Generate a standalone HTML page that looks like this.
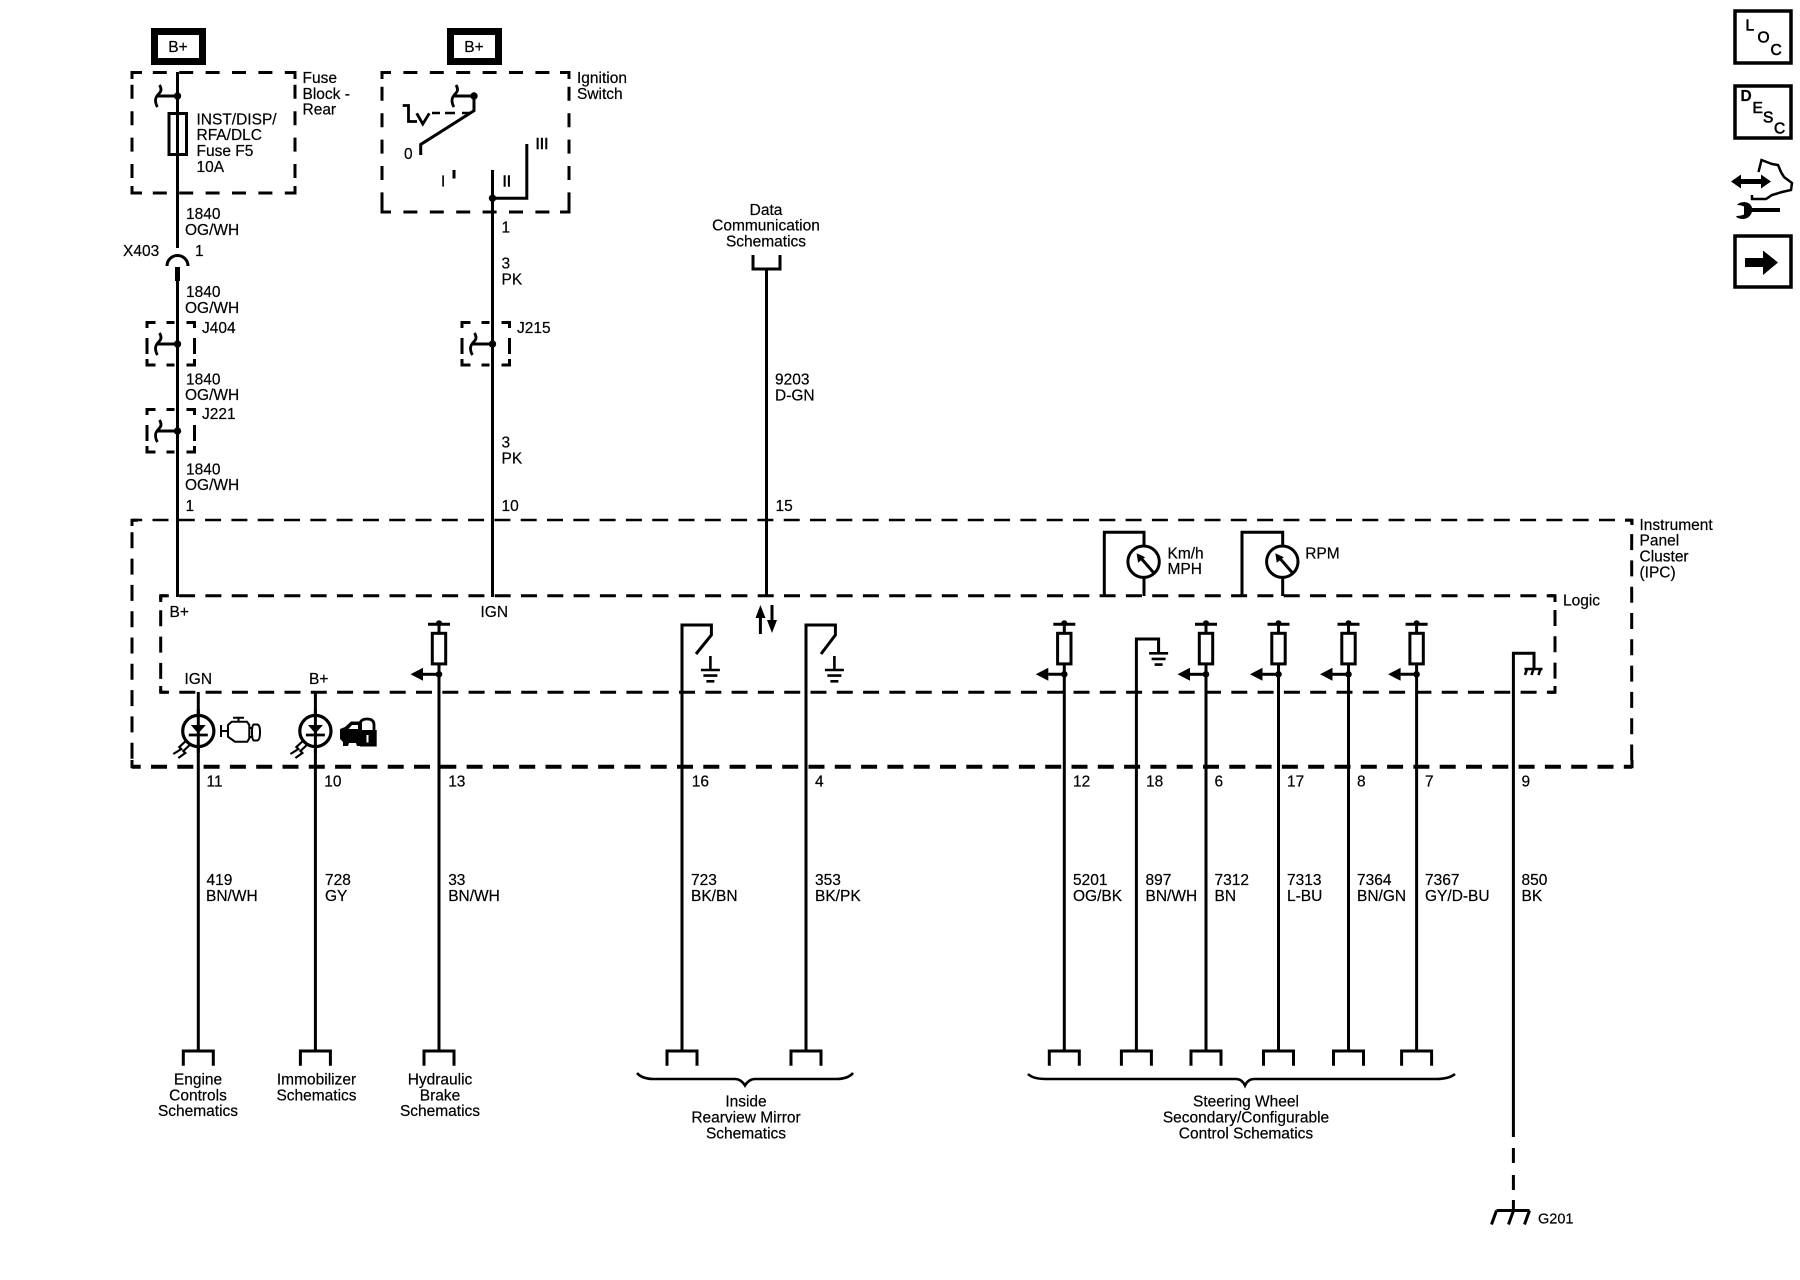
<!DOCTYPE html>
<html><head><meta charset="utf-8"><title>Instrument Panel Cluster Schematic</title>
<style>
html,body{margin:0;padding:0;background:#fff}
svg{display:block}
text{font-family:"Liberation Sans",sans-serif;font-size:15.5px;fill:#000;stroke:#000;stroke-width:.2}
.m{text-anchor:middle}
.d{fill:none;stroke:#000;stroke-width:3;stroke-dasharray:16 10.3}
.f{fill:none;stroke:#000;stroke-width:3;stroke-dasharray:14 12.4}
.w{fill:none;stroke:#000;stroke-width:3}
.b{stroke-width:.6}
</style></head><body>
<svg width="1800" height="1280" viewBox="0 0 1800 1280" xmlns="http://www.w3.org/2000/svg">
<defs>
<g id="sp" fill="none" stroke="#000"><path d="M0 0H-20" stroke-width="3"/><path d="M-18 -11Q-15 -6 -18 -3Q-22 1 -22 4Q-22 8 -20 11" stroke-width="2.800"/><circle r="3.700" fill="#000" stroke="none"/></g>
<g id="jb" fill="none" stroke="#000" stroke-width="3"><path d="M-22 -21.500H-30.500V-16M-11 -21.500H-3M9 -21.500H17V-16M-30.500 -6V10M17 -6V10M-30.500 15V21H-22M-11 21H-3M9 21H17V15"/></g>
<g id="pu" fill="none" stroke="#000"><circle cy="-51" r="3" fill="#000" stroke="none"/><path d="M-11 -50H11" stroke-width="3"/><path d="M0 -50V-41M0 -11V0" stroke-width="3"/><rect x="-6.700" y="-41" width="13.400" height="30.600" stroke-width="3"/><path d="M0 0H-16" stroke-width="3"/><path d="M-16 -6.500V6.500L-28.500 0Z" fill="#000" stroke="none"/><circle r="3.300" fill="#000" stroke="none"/></g>
<g id="gnd" stroke="#000" stroke-width="2.600"><path d="M0 -14V0M-9.500 0H9.500M-7 5.600H7M-4 11.300H4"/></g>
<g id="con" fill="none" stroke="#000" stroke-width="3"><path d="M-15 14.700V0H15V14.700"/></g>
<g id="led" fill="none" stroke="#000"><circle r="15.600" stroke-width="3.200" fill="#fff"/><path d="M0 -22V22" stroke-width="3"/><path d="M-7.500 -6H7.500L0 2.500Z" fill="#000" stroke="none"/><path d="M-9.500 4H9.500" stroke-width="2.800"/><path d="M-12.500 10L-19 16L-17 18L-25 23M-8 13.500L-15 20L-13 22L-20 27" stroke-width="2.200"/></g>
<g id="gauge" fill="none" stroke="#000"><circle r="15.700" stroke-width="3" fill="#fff"/><path d="M10 11L-3 -4" stroke-width="3"/><path d="M-7 -8.500L-5.500 1L1.500 -4.500Z" fill="#000" stroke="none"/></g>
</defs>

<!-- B+ boxes -->
<rect x="154.500" y="31.500" width="48" height="30" fill="#fff" stroke="#000" stroke-width="7"/>
<text x="178" y="52" class="m">B+</text>
<rect x="450.500" y="31.500" width="48" height="30" fill="#fff" stroke="#000" stroke-width="7"/>
<text x="474" y="52" class="m">B+</text>

<!-- Fuse block -->
<path class="f" d="M132 72.500H295" stroke-dashoffset="5.600"/>
<path class="f" d="M132 193H295" stroke-dashoffset="5.600"/>
<path class="f" d="M132 72V193" stroke-dashoffset="13.600"/>
<path class="f" d="M295 72V193" stroke-dashoffset="13.600"/>
<path d="M132 79V72.500H142M285 72.500H295V79M132 186V193H142M285 193H295V186" fill="none" stroke="#000" stroke-width="3"/>
<path class="w" d="M177.500 72V248M177.500 280V597"/>
<path d="M177.500 267V281" stroke="#000" stroke-width="5"/>
<path d="M167 266A10.500 10.500 0 0 1 188 266" fill="none" stroke="#000" stroke-width="3"/>
<use href="#sp" x="177.500" y="96"/>
<rect x="169" y="113.500" width="17.500" height="41" fill="#fff" stroke="#000" stroke-width="3"/>
<path d="M177.500 113V155" stroke="#000" stroke-width="3"/>
<text x="302.500" y="83">Fuse</text><text x="302.500" y="99">Block -</text><text x="302.500" y="114.500">Rear</text>
<text x="196.500" y="124.500">INST/DISP/</text><text x="196.500" y="140">RFA/DLC</text><text x="196.500" y="156">Fuse F5</text><text x="196.500" y="172">10A</text>
<text x="186" y="219">1840</text><text x="185" y="235">OG/WH</text>
<text x="123" y="256">X403</text><text x="195" y="256">1</text>
<text x="186" y="297">1840</text><text x="185" y="313">OG/WH</text>

<!-- J404 -->
<use href="#jb" x="177.500" y="344"/>
<use href="#sp" x="177.500" y="344"/>
<text x="202" y="333">J404</text>
<text x="186" y="384.500">1840</text><text x="185" y="400">OG/WH</text>
<!-- J221 -->
<use href="#jb" x="177.500" y="431"/>
<use href="#sp" x="177.500" y="431"/>
<text x="202" y="419">J221</text>
<text x="186" y="474.500">1840</text><text x="185" y="490">OG/WH</text>
<text x="185.500" y="511">1</text>

<!-- Ignition switch -->
<path class="f" d="M382 72.500H569" stroke-dashoffset="5"/>
<path class="f" d="M382 212H569" stroke-dashoffset="5"/>
<path class="f" d="M382 72V212" stroke-dashoffset="11.600"/>
<path class="f" d="M569 72V212" stroke-dashoffset="11.600"/>
<path d="M382 79V72.500H391M560 72.500H569V79M382 205V212H391M560 212H569V205" fill="none" stroke="#000" stroke-width="3"/>
<text x="577" y="83">Ignition</text><text x="577" y="99">Switch</text>
<path class="w" d="M492.500 170V597M492.500 198.300H526.800V144"/>
<circle cx="492.500" cy="198.300" r="3.700"/>
<use href="#sp" x="474" y="96"/>
<path class="w" d="M474 96V110.700L420.700 144.500V155"/>
<path d="M432 113H440M445 113H455M462 113H470" fill="none" stroke="#000" stroke-width="2.600"/>
<path d="M402.700 105.500H408.500V121.500H417M416.700 113.300L422.800 124L429.300 113.300" fill="none" stroke="#000" stroke-width="2.800"/>
<path d="M454 170V178.500" stroke="#000" stroke-width="3"/>
<text x="404" y="159">0</text><text x="441" y="186.700">I</text><text x="502.500" y="186.700" class="b">II</text><text x="535.500" y="149" class="b">III</text>
<text x="501.500" y="232.300">1</text>
<text x="501.500" y="268.300">3</text><text x="501.500" y="284.300">PK</text>
<use href="#jb" x="492.500" y="344"/>
<use href="#sp" x="492.500" y="344"/>
<text x="517" y="333">J215</text>
<text x="501.500" y="447.700">3</text><text x="501.500" y="463.300">PK</text>
<text x="501.500" y="511">10</text>

<!-- Data comm -->
<text x="766" y="215" class="m">Data</text><text x="766" y="230.700" class="m">Communication</text><text x="766" y="246.700" class="m">Schematics</text>
<path class="w" d="M753 255V269H780V255M766.500 269V597"/>
<text x="775" y="384.300">9203</text><text x="775" y="400.500">D-GN</text>
<text x="775.500" y="511">15</text>

<!-- IPC box -->
<path class="d" d="M132 520H1632" stroke-dashoffset="5.800" style="stroke-width:2.600"/>
<path class="d" d="M132 766.700H1632" stroke-dashoffset="7.300" style="stroke-width:4"/>
<path class="d" d="M132 520V767" stroke-dashoffset="14"/>
<path class="d" d="M1631.700 520V767" stroke-dashoffset="12.200"/>
<path d="M132 526V520.200H138M1625 520.200H1632V525M132 760V766.700H138M1625 766.700H1632V760" fill="none" stroke="#000" stroke-width="3"/>
<text x="1639.500" y="530">Instrument</text><text x="1639.500" y="545.700">Panel</text><text x="1639.500" y="561.700">Cluster</text><text x="1639.500" y="577.300">(IPC)</text>

<!-- Logic box -->
<path class="d" d="M160.700 595.700H1555" stroke-dashoffset="7.900"/>
<path class="d" d="M160.700 692.300H1555" stroke-dashoffset="7.700"/>
<path class="d" d="M160.700 595.700V692.300" stroke-dashoffset="11.700"/>
<path class="d" d="M1555 595.700V692.300" stroke-dashoffset="12"/>
<path d="M160.700 602V595.700H167M1548 595.700H1555V602M160.700 686V692.300H167M1548 692.300H1555V686" fill="none" stroke="#000" stroke-width="3"/>
<text x="1563" y="605.500">Logic</text>
<text x="169.500" y="617">B+</text><text x="480.500" y="617">IGN</text>
<text x="184.500" y="684">IGN</text><text x="309" y="684">B+</text>

<!-- Left lower -->
<path class="w" d="M198.300 692V1051"/><use href="#led" x="198.300" y="731"/>
<path class="w" d="M315.400 692V1051"/><use href="#led" x="315.400" y="731"/>
<!-- engine icon -->
<path d="M221 725V737M221 731H228M228 725L231.700 721.700H247L249.300 725V738.300L247.300 741.700H235L228 736.700ZM233 717.700H244M238.500 717.700V721.700M249.300 728H253M249.300 737H253M253 724.500H257Q260 724.500 260 732Q260 740.500 257 740.500H254Q252 740.500 252 732Q252 724.500 254 724.500Z" fill="none" stroke="#000" stroke-width="2"/>
<!-- car lock icon -->
<path d="M340 729L345 727L351 721.500H362V746H357L356 743H349L348 746H343V742L340 739Z"/>
<path d="M348.500 729L352 725H358V729Z" fill="#fff"/>
<path d="M360 731V725Q360 719 367 719Q374 719 374 725V731" fill="none" stroke="#000" stroke-width="2.800"/>
<rect x="360" y="730" width="16.700" height="16.500"/>
<rect x="366.500" y="735" width="2" height="7.500" fill="#fff"/>
<use href="#pu" x="439" y="674.300"/>
<path class="w" d="M439 674V1051"/>
<text x="206.500" y="786.700">11</text><text x="324.300" y="786.700">10</text><text x="448.200" y="786.700">13</text>
<text x="206.500" y="885">419</text><text x="206" y="901">BN/WH</text>
<text x="325" y="885">728</text><text x="325" y="901">GY</text>
<text x="448.200" y="885">33</text><text x="448.200" y="901">BN/WH</text>

<!-- mirror -->
<path class="w" d="M682 1051V625H711.400V635L696 654"/>
<use href="#gnd" x="710.400" y="670"/>
<path class="w" d="M806 1051V625H835.400V635L821 654"/>
<use href="#gnd" x="834.400" y="670"/>
<path d="M760.400 634V612" stroke="#000" stroke-width="3"/><path d="M755.500 618L760.400 605L765.500 618Z"/>
<path d="M772 605V626" stroke="#000" stroke-width="3"/><path d="M767 620H777L772 633Z"/>
<text x="691.800" y="786.700">16</text><text x="815" y="786.700">4</text>
<text x="691" y="885">723</text><text x="691" y="901">BK/BN</text>
<text x="815" y="885">353</text><text x="815" y="901">BK/PK</text>

<!-- gauges -->
<path class="w" d="M1104.300 596V532.300H1144V596"/>
<use href="#gauge" x="1143.600" y="561.700"/>
<text x="1167.500" y="558.300">Km/h</text><text x="1167.500" y="574">MPH</text>
<path class="w" d="M1242 596V532.300H1282.700V596"/>
<use href="#gauge" x="1282.300" y="561.700"/>
<text x="1305.200" y="558.300">RPM</text>

<!-- pull-ups -->
<use href="#pu" x="1064.300" y="674.300"/><path class="w" d="M1064.300 674V1051"/>
<path class="w" d="M1136.400 1051V639H1158.600V653"/>
<use href="#gnd" x="1158.600" y="653.300"/>
<use href="#pu" x="1206" y="674.300"/><path class="w" d="M1206 674V1051"/>
<use href="#pu" x="1278.500" y="674.300"/><path class="w" d="M1278.500 674V1051"/>
<use href="#pu" x="1348.500" y="674.300"/><path class="w" d="M1348.500 674V1051"/>
<use href="#pu" x="1416.600" y="674.300"/><path class="w" d="M1416.600 674V1051"/>
<path class="w" d="M1513.400 1137V653.300H1534V668"/>
<path d="M1524.500 669H1542.500" stroke="#000" stroke-width="2.600"/>
<path d="M1527 669L1525 675M1533.500 669L1531.500 675M1540.500 669L1538.500 675" stroke="#000" stroke-width="2.600"/>
<path d="M1513.400 1148V1163M1513.400 1175V1190M1513.400 1200V1210" stroke="#000" stroke-width="3"/>
<path d="M1496.500 1210.500H1529.500M1496.500 1210.500L1491.500 1224.500M1513.500 1210.500L1508.500 1224.500M1529.500 1210.500L1524.500 1224.500" stroke="#000" stroke-width="3" fill="none"/>
<text x="1538" y="1223.300" style="font-size:14.500px">G201</text>

<text x="1073" y="786.700">12</text><text x="1146" y="786.700">18</text><text x="1214.500" y="786.700">6</text><text x="1287" y="786.700">17</text><text x="1357" y="786.700">8</text><text x="1425" y="786.700">7</text><text x="1521.500" y="786.700">9</text>
<text x="1073" y="885">5201</text><text x="1073" y="901">OG/BK</text>
<text x="1145.500" y="885">897</text><text x="1145.500" y="901">BN/WH</text>
<text x="1214.500" y="885">7312</text><text x="1214.500" y="901">BN</text>
<text x="1287" y="885">7313</text><text x="1287" y="901">L-BU</text>
<text x="1357" y="885">7364</text><text x="1357" y="901">BN/GN</text>
<text x="1425" y="885">7367</text><text x="1425" y="901">GY/D-BU</text>
<text x="1521.500" y="885">850</text><text x="1521.500" y="901">BK</text>

<!-- bottom connectors -->
<use href="#con" x="198.300" y="1051"/><use href="#con" x="315.400" y="1051"/><use href="#con" x="439" y="1051"/>
<use href="#con" x="682" y="1051"/><use href="#con" x="806" y="1051"/>
<use href="#con" x="1064.300" y="1051"/><use href="#con" x="1136.400" y="1051"/><use href="#con" x="1206" y="1051"/><use href="#con" x="1278.500" y="1051"/><use href="#con" x="1348.500" y="1051"/><use href="#con" x="1416.600" y="1051"/>

<text x="198" y="1084.300" class="m">Engine</text><text x="198" y="1100.300" class="m">Controls</text><text x="198" y="1116" class="m">Schematics</text>
<text x="316.500" y="1084.300" class="m">Immobilizer</text><text x="316.500" y="1100.300" class="m">Schematics</text>
<text x="440" y="1084.300" class="m">Hydraulic</text><text x="440" y="1100.300" class="m">Brake</text><text x="440" y="1116" class="m">Schematics</text>

<!-- braces -->
<path d="M637 1073Q642 1079 654 1079H735Q741 1079 745 1085.500Q749 1079 755 1079H836Q848 1079 853 1073" fill="none" stroke="#000" stroke-width="2.600"/>
<text x="746" y="1106.700" class="m">Inside</text><text x="746" y="1122.700" class="m">Rearview Mirror</text><text x="746" y="1138.300" class="m">Schematics</text>
<path d="M1028 1074Q1033 1079 1046 1079H1236Q1242 1079 1245 1085.500Q1248 1079 1254 1079H1436Q1449 1079 1455 1074" fill="none" stroke="#000" stroke-width="2.600"/>
<text x="1246" y="1106.700" class="m">Steering Wheel</text><text x="1246" y="1122.700" class="m">Secondary/Configurable</text><text x="1246" y="1138.300" class="m">Control Schematics</text>

<!-- right side icons -->
<rect x="1735" y="11" width="56" height="52" fill="#fff" stroke="#000" stroke-width="3.500"/>
<text x="1745.500" y="30.700" class="b">L</text><text x="1757.500" y="42.700" class="b">O</text><text x="1770.500" y="55" class="b">C</text>
<rect x="1735" y="86" width="56" height="52" fill="#fff" stroke="#000" stroke-width="3.500"/>
<text x="1740.500" y="101" font-weight="bold">D</text><text x="1752.500" y="113" class="b">E</text><text x="1763" y="122.700" class="b">S</text><text x="1774" y="133.300" class="b">C</text>
<path d="M1731 181.500L1741 174.500V179H1761V174.500L1771 181.500L1761 188.500V184H1741V188.500Z"/>
<path d="M1758.500 172L1761.500 160L1772 164L1778 165L1781 172L1784 177L1792 183L1791 190L1782 192L1772 195L1766 199L1752 199V195" fill="none" stroke="#000" stroke-width="2.500"/>
<path d="M1752 208H1780V212H1752Q1750 218 1744 219Q1737 219 1736 216Q1741 216 1744 214.500V206.500Q1741 205 1737 205Q1739 202 1745 202Q1751 203 1752 208Z"/>
<rect x="1735" y="236" width="56" height="51" fill="#fff" stroke="#000" stroke-width="3.500"/>
<path d="M1745 258H1763V250.500L1778 262.500L1763 275V267H1745Z"/>
</svg>
</body></html>
